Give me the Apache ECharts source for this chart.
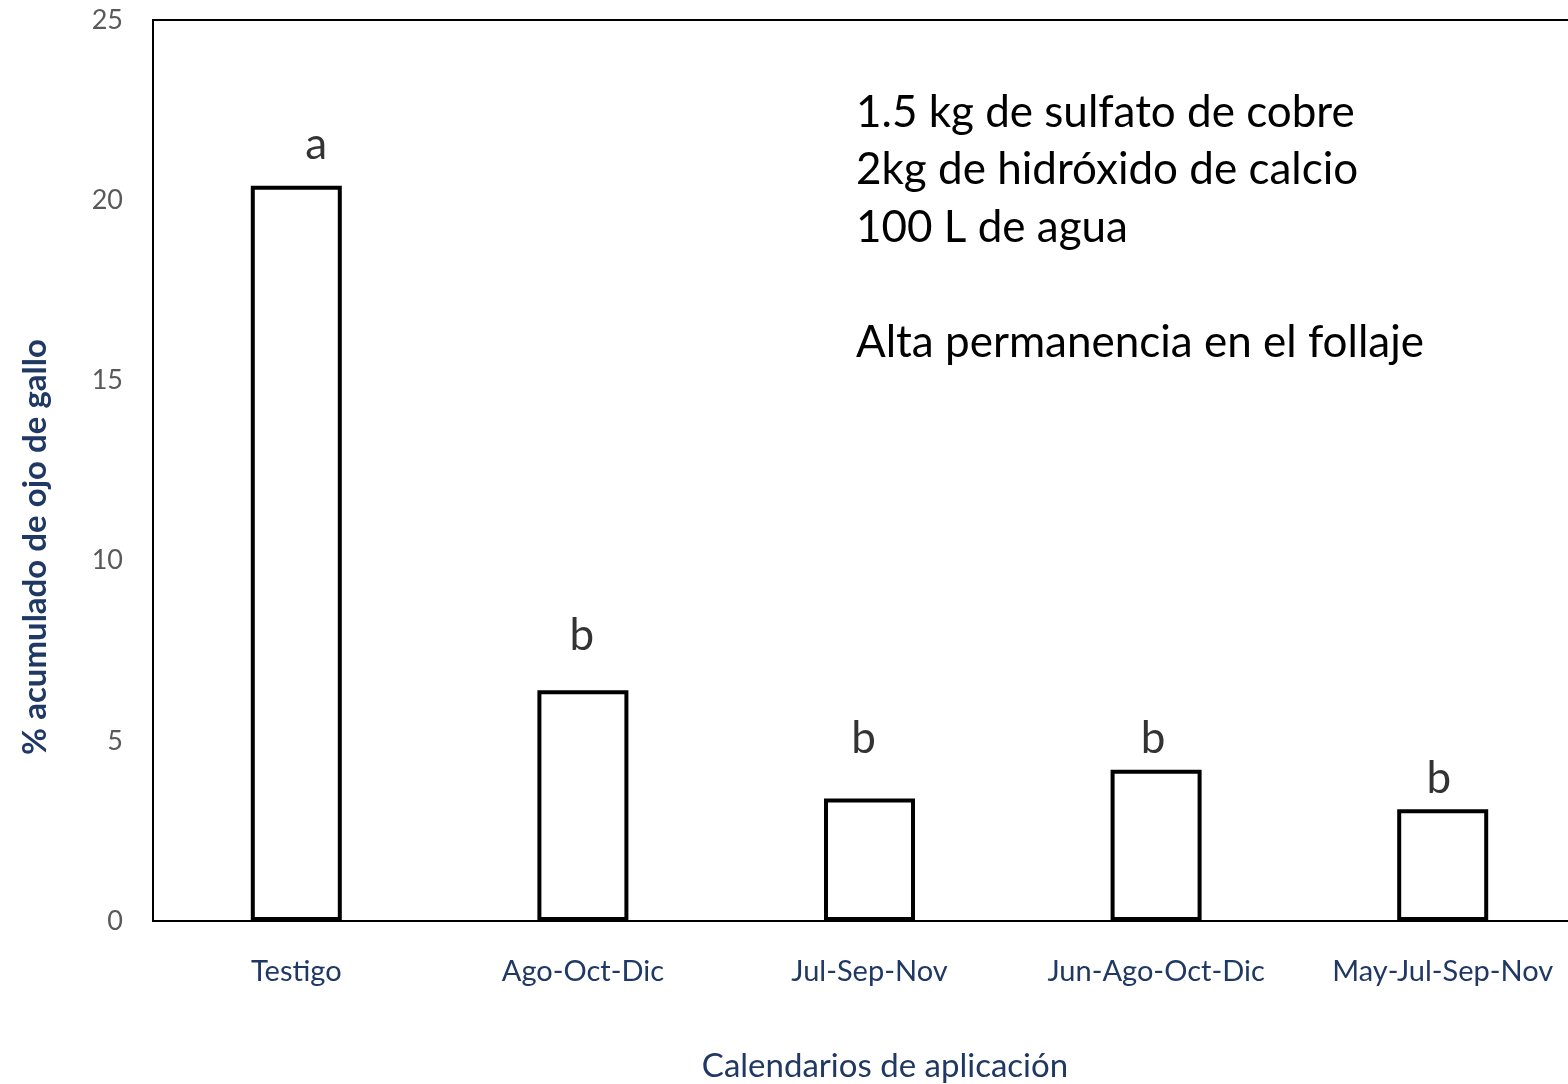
<!DOCTYPE html>
<html>
<head>
<meta charset="utf-8">
<script src="https://cdn.jsdelivr.net/npm/echarts@6/dist/echarts.min.js"></script>
<style>
  html, body { margin: 0; padding: 0; background: #fff; overflow: hidden; }
  #chart { width: 1586px; height: 1084px; }
</style>
</head>
<body>
<div id="chart"></div>
<script>
// categorias y valores
const categories = ['Testigo', 'Ago-Oct-Dic', 'Jul-Sep-Nov', 'Jun-Ago-Oct-Dic', 'May-Jul-Sep-Nov'];
const values = [20.4, 6.4, 3.4, 4.2, 3.1];
// letras de significancia y su altura (en unidades del eje)
const letters = ['a', 'b', 'b', 'b', 'b'];
const letterHeights = [21.55, 7.9, 5.05, 5.05, 3.95];
const letterShift = [20, -1, -6, -3, -4]; // desplazamiento horizontal de la letra
const yTicks = [0, 5, 10, 15, 20, 25];

const FONT = 'Lato, "Open Sans", sans-serif';
const navy = '#1f3864';

const chart = echarts.init(document.getElementById('chart'));

const option = {
  backgroundColor: '#fff',
  animation: false,
  grid: {
    left: 153, top: 20, right: 0, bottom: 163,
    show: true, borderColor: '#000', borderWidth: 2
  },
  xAxis: {
    type: 'category',
    data: categories,
    axisLine: { show: true, lineStyle: { color: '#000', width: 2 } },
    axisTick: { show: false },
    axisLabel: { color: navy, fontSize: 29, fontFamily: FONT, margin: 36, interval: 0, hideOverlap: false }
  },
  yAxis: {
    type: 'value',
    min: yTicks[0],
    max: yTicks[yTicks.length - 1],
    interval: 5,
    axisLine: { show: true, lineStyle: { color: '#000', width: 2 } },
    axisTick: { show: false },
    splitLine: { show: false },
    axisLabel: { color: '#595959', fontSize: 27, fontFamily: FONT, margin: 30 }
  },
  series: [
    {
      type: 'bar',
      data: values,
      barWidth: 91,
      itemStyle: { color: '#fff', borderColor: '#000', borderWidth: 4 }
    },
    {
      type: 'scatter',
      data: letterHeights.map((v, i) => ({
        value: v, name: letters[i],
        label: { offset: [letterShift[i], 0] }
      })),
      symbolSize: 1,
      itemStyle: { color: 'transparent' },
      label: {
        show: true,
        position: 'inside',
        formatter: p => p.name,
        color: '#000',
        textBorderWidth: 0,
        fontSize: 44,
        fontFamily: FONT
      }
    }
  ],
  graphic: [
    {
      type: 'text',
      left: 856, top: 84,
      style: {
        text: '1.5 kg de sulfato de cobre\n2kg de hidróxido de calcio\n100 L de agua\n\nAlta permanencia en el follaje',
        font: '44px ' + FONT,
        lineHeight: 57.5,
        fill: '#000'
      }
    },
    {
      type: 'text',
      x: 35, y: 547,
      rotation: Math.PI / 2,
      style: {
        text: '% acumulado de ojo de gallo',
        font: 'bold 33px ' + FONT,
        fill: navy,
        align: 'center',
        verticalAlign: 'middle'
      }
    },
    {
      type: 'text',
      x: 885, y: 1066,
      style: {
        text: 'Calendarios de aplicación',
        font: '33px ' + FONT,
        fill: navy,
        align: 'center',
        verticalAlign: 'middle'
      }
    }
  ]
};

chart.setOption(option);
window.addEventListener('resize', () => chart.resize());
</script>
</body>
</html>
